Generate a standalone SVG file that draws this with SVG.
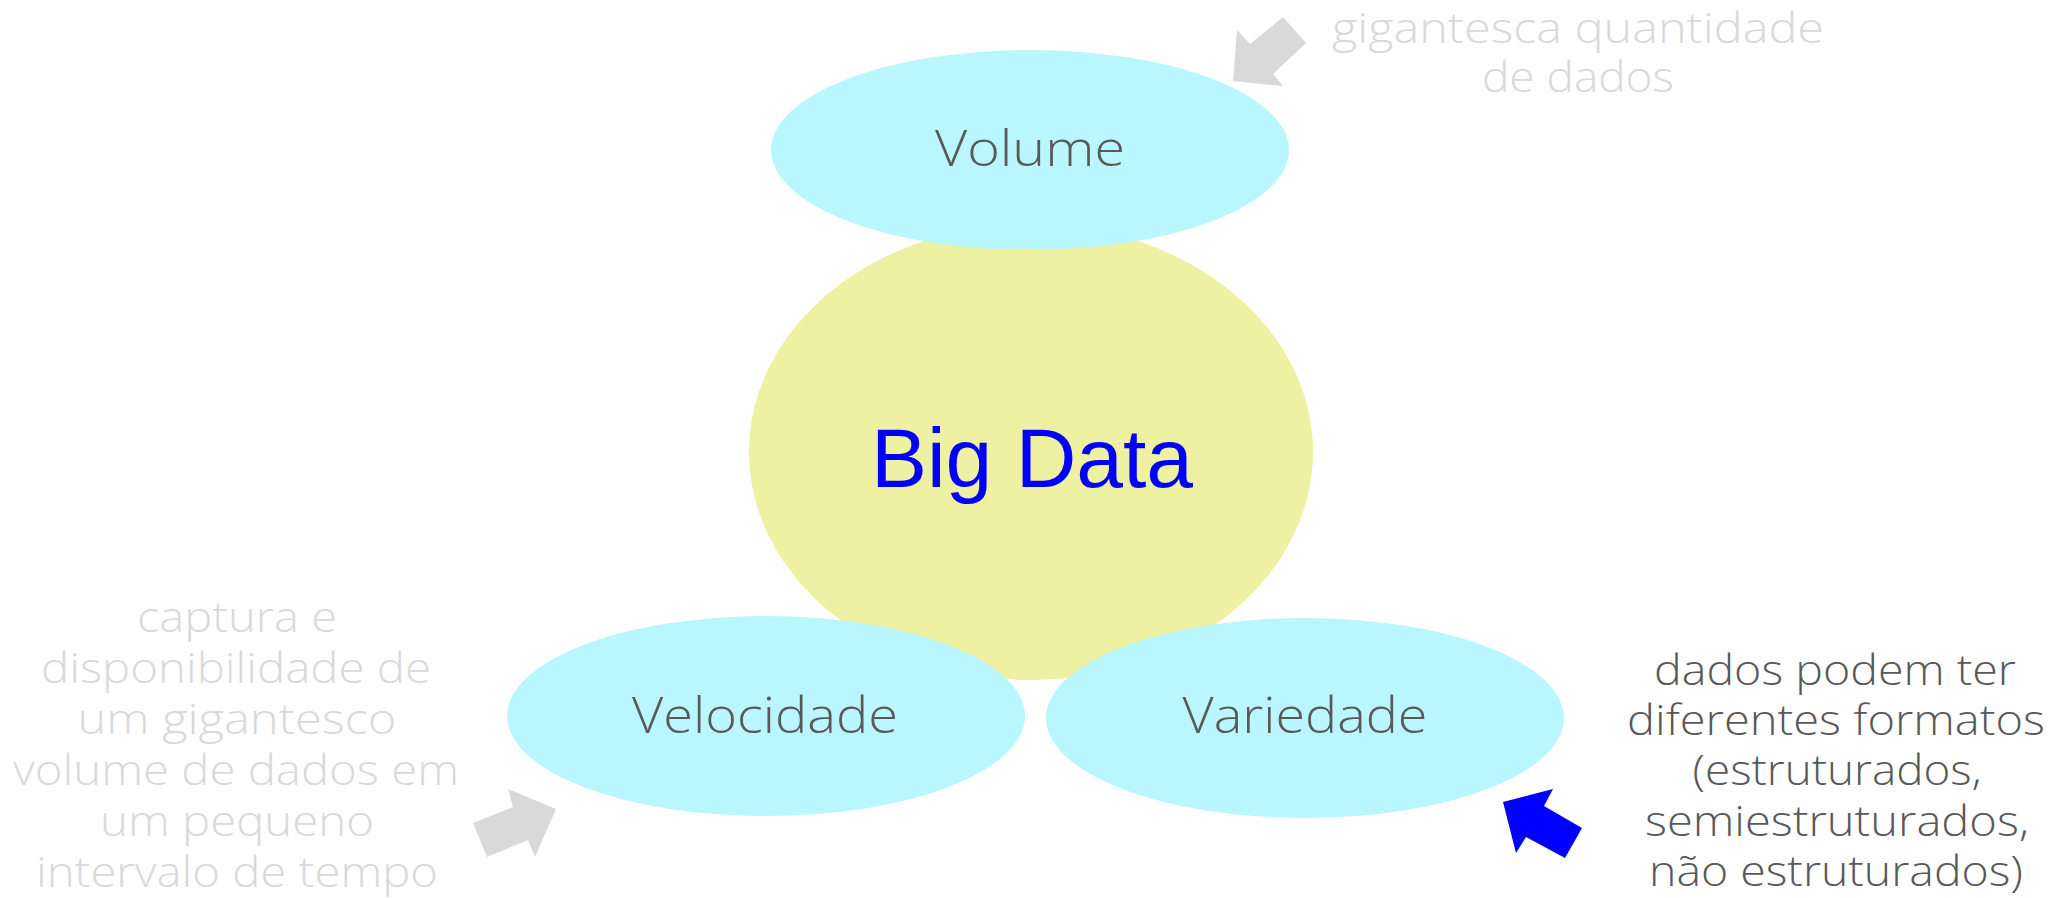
<svg xmlns="http://www.w3.org/2000/svg" width="2072" height="898" viewBox="0 0 2072 898">
  <style>
    .core { fill: #eef0a2; }
    .v { fill: #b9f6fd; }
    .lbl { font-family: "Open Sans", "Noto Sans", "Liberation Sans", sans-serif; font-weight: 300; font-size: 49px; fill: #595959; text-anchor: middle; }
    .note { font-family: "Open Sans", "Noto Sans", "Liberation Sans", sans-serif; font-weight: 300; font-size: 43px; text-anchor: middle; }
    .light { fill: #d9d9d9; }
    .dark { fill: #595959; }
    .big { font-family: "Liberation Sans", Arial, sans-serif; font-size: 84px; fill: #0000ff; text-anchor: middle; }
    .arrow-gray { fill: #d9d9d9; }
    .arrow-blue { fill: #0000ff; }
  </style>
  <rect width="2072" height="898" fill="#ffffff"/>

  <g id="big-data">
    <ellipse class="core" cx="1031" cy="452" rx="282" ry="228"/>
    <text class="big" x="1032" y="487">Big Data</text>
  </g>

  <g id="volume">
    <ellipse class="v" cx="1030" cy="150" rx="259" ry="100"/>
    <text class="lbl" x="1030" y="166" textLength="190" lengthAdjust="spacingAndGlyphs">Volume</text>
  </g>

  <g id="velocidade">
    <ellipse class="v" cx="766" cy="716" rx="259" ry="100"/>
    <text class="lbl" x="765" y="733" textLength="266" lengthAdjust="spacingAndGlyphs">Velocidade</text>
  </g>

  <g id="variedade">
    <ellipse class="v" cx="1305" cy="718" rx="259" ry="100"/>
    <text class="lbl" x="1305" y="733" textLength="245" lengthAdjust="spacingAndGlyphs">Variedade</text>
  </g>

  <g id="connectors">
    <polygon class="arrow-gray" points="1233,81 1237,30 1250,44 1283,17 1306,43 1273,74 1283,86"/>
    <polygon class="arrow-gray" points="556,809 508,789 513,807 473,823 487,857 528,840 535,857"/>
    <polygon class="arrow-blue" points="1503,802 1553,789 1544,806 1582,828 1565,858 1526,837 1516,853"/>
  </g>

  <g id="note-volume" class="note light">
    <text x="1578" y="43" textLength="492" lengthAdjust="spacingAndGlyphs">gigantesca quantidade</text>
    <text x="1578" y="92" textLength="192" lengthAdjust="spacingAndGlyphs">de dados</text>
  </g>

  <g id="note-velocidade" class="note light">
    <text x="237" y="632" textLength="200" lengthAdjust="spacingAndGlyphs">captura e</text>
    <text x="236" y="683" textLength="390" lengthAdjust="spacingAndGlyphs">disponibilidade de</text>
    <text x="237" y="734" textLength="319" lengthAdjust="spacingAndGlyphs">um gigantesco</text>
    <text x="236" y="785" textLength="446" lengthAdjust="spacingAndGlyphs">volume de dados em</text>
    <text x="237" y="836" textLength="274" lengthAdjust="spacingAndGlyphs">um pequeno</text>
    <text x="237" y="887" textLength="402" lengthAdjust="spacingAndGlyphs">intervalo de tempo</text>
  </g>

  <g id="note-variedade" class="note dark">
    <text x="1835" y="685" textLength="362" lengthAdjust="spacingAndGlyphs">dados podem ter</text>
    <text x="1836" y="735" textLength="418" lengthAdjust="spacingAndGlyphs">diferentes formatos</text>
    <text x="1837" y="785" textLength="289" lengthAdjust="spacingAndGlyphs">(estruturados,</text>
    <text x="1837" y="836" textLength="384" lengthAdjust="spacingAndGlyphs">semiestruturados,</text>
    <text x="1836" y="886" textLength="374" lengthAdjust="spacingAndGlyphs">não estruturados)</text>
  </g>
</svg>
